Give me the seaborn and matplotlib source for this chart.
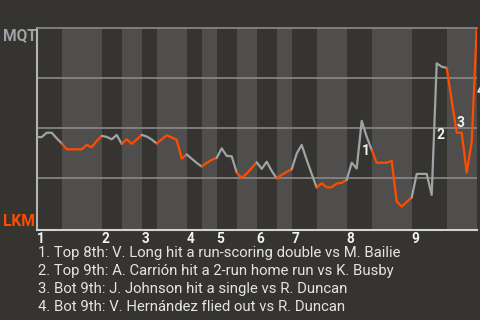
import matplotlib
matplotlib.use("Agg")
import matplotlib.pyplot as plt
import seaborn as sns
import numpy as np
import pandas as pd

# ---------------- data ----------------
away_team = "MQT"
home_team = "LKM"

# plate appearances per half inning (top 1, bot 1, top 2, ... bot 9)
half_inning_pas = [5, 8, 4, 4, 3, 6, 3, 3, 4, 4, 4, 3, 5, 6, 5, 8, 7, 6]

# MQT win probability after each plate appearance (index 0 = first pitch)
win_prob = [
    0.456, 0.456, 0.478, 0.478, 0.450, 0.425,                # top 1
    0.395, 0.395, 0.395, 0.395, 0.417, 0.405, 0.437, 0.462,  # bot 1
    0.457, 0.445, 0.467, 0.422,                              # top 2
    0.445, 0.422, 0.444, 0.467,                              # bot 2
    0.459, 0.444, 0.424,                                     # top 3
    0.445, 0.465, 0.454, 0.442, 0.349, 0.369,                # bot 3
    0.348, 0.327, 0.309,                                     # top 4
    0.327, 0.342, 0.352,                                     # bot 4
    0.400, 0.362, 0.360, 0.279,                              # top 5
    0.252, 0.274, 0.302, 0.330,                              # bot 5
    0.297, 0.333, 0.287, 0.250,                              # top 6
    0.267, 0.282, 0.295,                                     # bot 6
    0.374, 0.417, 0.342, 0.272, 0.204,                       # top 7
    0.225, 0.205, 0.205, 0.224, 0.227, 0.242,                # bot 7
    0.328, 0.299, 0.537, 0.458, 0.392,                       # top 8
    0.328, 0.328, 0.328, 0.337, 0.133, 0.109, 0.132, 0.154,  # bot 8
    0.272, 0.272, 0.272, 0.167, 0.825, 0.808, 0.802,         # top 9
    0.640, 0.478, 0.478, 0.278, 0.432, 1.000,                # bot 9
]

inning_labels = ["1", "2", "3", "4", "5", "6", "7", "8", "9"]

# key plays: (label, plate appearance index ending the play)
key_play_ids = ["1", "2", "3", "4"]
key_play_pa = [65, 80, 84, 88]
key_play_text = [
    "1. Top 8th: V. Long hit a run-scoring double vs M. Bailie",
    "2. Top 9th: A. Carrión hit a 2-run home run vs K. Busby",
    "3. Bot 9th: J. Johnson hit a single vs R. Duncan",
    "4. Bot 9th: V. Hernández flied out vs R. Duncan",
]

# ---------------- style ----------------
BG = "#363430"
BAND = "#4f4e4c"
GRID = "#8a8a8a"
GRAY = "#9ea3a8"
ORANGE = "#ff4d00"
TXT = "#e4e4e4"

sns.set_theme(style="dark")
plt.rcParams["font.family"] = ["Roboto", "DejaVu Sans"]

fig = plt.figure(figsize=(4.8, 3.2), dpi=100, facecolor=BG)
ax = fig.add_axes([36.7 / 480, 1 - 230 / 320, 440 / 480, (230 - 28.3) / 320])
ax.set_facecolor(BG)

bounds = np.concatenate([[0], np.cumsum(half_inning_pas)])
n_pa = bounds[-1]

# bottom-half bands
for k in range(len(half_inning_pas)):
    if k % 2 == 1:
        ax.axvspan(bounds[k], bounds[k + 1], color=BAND, lw=0, zorder=0)

# gridlines
for g in [0.25, 0.5, 0.75]:
    ax.axhline(g, color=GRID, lw=1.2, zorder=1)

# build segments per half inning
rows = []
palette = {}
for k in range(len(half_inning_pas)):
    seg = f"h{k}"
    palette[seg] = GRAY if k % 2 == 0 else ORANGE
    for i in range(bounds[k], bounds[k + 1] + 1):
        rows.append({"pa": i, "wp": win_prob[i], "seg": seg})
df = pd.DataFrame(rows)

sns.lineplot(data=df, x="pa", y="wp", hue="seg", palette=palette,
             estimator=None, sort=False, legend=False, lw=1.6, ax=ax,
             zorder=3)

ax.set_xlim(0, n_pa)
ax.set_ylim(-0.0085, 1.0)
ax.set_xticks([])
ax.set_yticks([])
ax.set_xlabel("")
ax.set_ylabel("")
ax.grid(False)

ax.spines["right"].set_visible(False)
ax.spines["top"].set_color(GRID)
ax.spines["top"].set_linewidth(1.2)
ax.spines["left"].set_color("#b4b4b4")
ax.spines["left"].set_linewidth(1.5)
ax.spines["bottom"].set_color("#d2d2d2")
ax.spines["bottom"].set_linewidth(1.5)

# inning numbers
for j, lab in enumerate(inning_labels):
    ax.text(bounds[2 * j], -0.012, lab, transform=ax.get_xaxis_transform(),
            ha="left", va="top", fontsize=9.8, fontweight="bold", color="#f2f2f2")

# key play markers
for lab, pa in zip(key_play_ids, key_play_pa):
    mx = pa - 0.5
    my = (win_prob[pa - 1] + win_prob[pa]) / 2
    ax.annotate(lab, xy=(mx, my), xytext=(1.7, 0.7), textcoords="offset points",
                ha="left", va="top", fontsize=10, fontweight="bold",
                color="#f2f2f2", zorder=4, annotation_clip=False)

# team labels
fig.text(2.7 / 480, 1 - 28.3 / 320, away_team, ha="left", va="top",
         fontsize=11.2, fontweight="bold", color=GRAY)
fig.text(2.7 / 480, 1 - 225.7 / 320, home_team, ha="left", va="baseline",
         fontsize=11.2, fontweight="bold", color=ORANGE)

# key play descriptions
for n, t in enumerate(key_play_text):
    fig.text(37.5 / 480, 1 - (257.2 + 18 * n) / 320, t, ha="left",
             va="baseline", fontsize=10.7, color=TXT)

fig.savefig("out.png", dpi=100, facecolor=BG)
